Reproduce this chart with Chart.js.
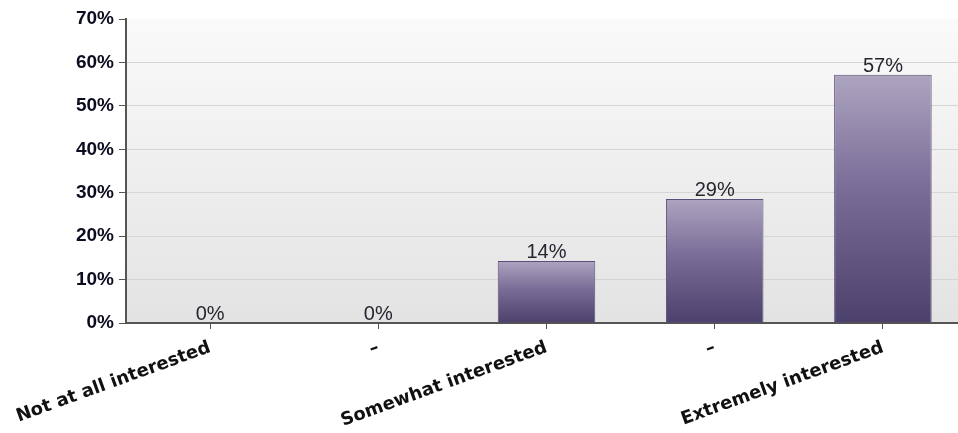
<!DOCTYPE html>
<html>
<head>
<meta charset="utf-8">
<script src="https://cdn.jsdelivr.net/npm/chart.js@4.4.0/dist/chart.umd.min.js"></script>
<style>
  html, body { margin: 0; padding: 0; background: #fff; overflow: hidden; }
  #wrap { width: 970px; height: 433px; position: relative; }
</style>
</head>
<body>
<div id="wrap"><canvas id="chart"></canvas></div>
<script>
// answer options and share of responses (%)
const categories = ['Not at all interested', '–', 'Somewhat interested', '–', 'Extremely interested'];
const shares = [0, 0, 14.29, 28.57, 57.14];
const yTicks = [0, 10, 20, 30, 40, 50, 60, 70];

// plot background: soft vertical grey gradient
const plotBackground = {
    id: 'plotBackground',
    beforeDraw(chart) {
        const { ctx, chartArea: a } = chart;
        const g = ctx.createLinearGradient(0, a.top, 0, a.bottom);
        g.addColorStop(0, '#fafafa');
        g.addColorStop(1, '#e3e3e3');
        ctx.save();
        ctx.fillStyle = g;
        ctx.fillRect(a.left, a.top, a.right - a.left, a.bottom - a.top);
        ctx.restore();
    }
};

// percentage labels above each bar
const valueLabels = {
    id: 'valueLabels',
    afterDatasetsDraw(chart) {
        const { ctx } = chart;
        const meta = chart.getDatasetMeta(0);
        ctx.save();
        ctx.font = '20px "Liberation Sans", Arial, sans-serif';
        ctx.fillStyle = '#262630';
        ctx.textAlign = 'center';
        ctx.textBaseline = 'alphabetic';
        meta.data.forEach((bar, i) => {
            ctx.fillText(Math.round(shares[i]) + '%', bar.x, bar.y - 3);
        });
        ctx.restore();
    }
};

const barFill = (context) => {
    const chart = context.chart;
    const y = chart.scales.y;
    if (!y || !chart.chartArea) return '#6a5d88';
    const top = y.getPixelForValue(context.raw);
    const bottom = y.getPixelForValue(0);
    if (bottom - top < 1) return '#6a5d88';
    const g = chart.ctx.createLinearGradient(0, top, 0, bottom);
    g.addColorStop(0, '#ada4bf');
    g.addColorStop(0.45, '#7a6d98');
    g.addColorStop(1, '#4c416c');
    return g;
};

new Chart(document.getElementById('chart'), {
    type: 'bar',
    data: {
        labels: categories,
        datasets: [{
            data: shares,
            backgroundColor: barFill,
            borderColor: '#5a4f78',
            borderWidth: 1,
            categoryPercentage: 1,
            barPercentage: 0.58
        }]
    },
    options: {
        responsive: true,
        maintainAspectRatio: false,
        animation: false,
        layout: { padding: { top: 19, right: 3, left: 0, bottom: 0 } },
        plugins: { legend: { display: false }, tooltip: { enabled: false } },
        scales: {
            x: {
                offset: true,
                grid: { display: true, drawOnChartArea: false, offset: false, tickLength: 6, tickColor: '#555' },
                border: { color: '#555', width: 2 },
                ticks: {
                    autoSkip: false,
                    minRotation: 20, maxRotation: 20,
                    padding: 8,
                    color: '#111',
                    font: { family: '"DejaVu Sans", Verdana, sans-serif', size: 18, weight: 'bold' }
                },
                afterFit(scale) {
                    scale.height = 110;
                    scale.paddingLeft = 0;
                    scale.paddingRight = 0;
                }
            },
            y: {
                min: 0, max: 70,
                afterBuildTicks(scale) { scale.ticks = yTicks.map(v => ({ value: v })); },
                grid: {
                    color: (c) => (c.tick && c.tick.value === 70 ? 'rgba(0,0,0,0)' : '#d5d5d5'),
                    tickLength: 7, tickColor: '#555'
                },
                border: { color: '#555', width: 2 },
                ticks: {
                    padding: 5,
                    color: '#0c0c20',
                    font: { family: '"Liberation Sans", Arial, sans-serif', size: 19, weight: 'bold' },
                    callback: (v) => v + '%'
                },
                afterFit(scale) { scale.width = 126; }
            }
        }
    },
    plugins: [plotBackground, valueLabels]
});
</script>
</body>
</html>
